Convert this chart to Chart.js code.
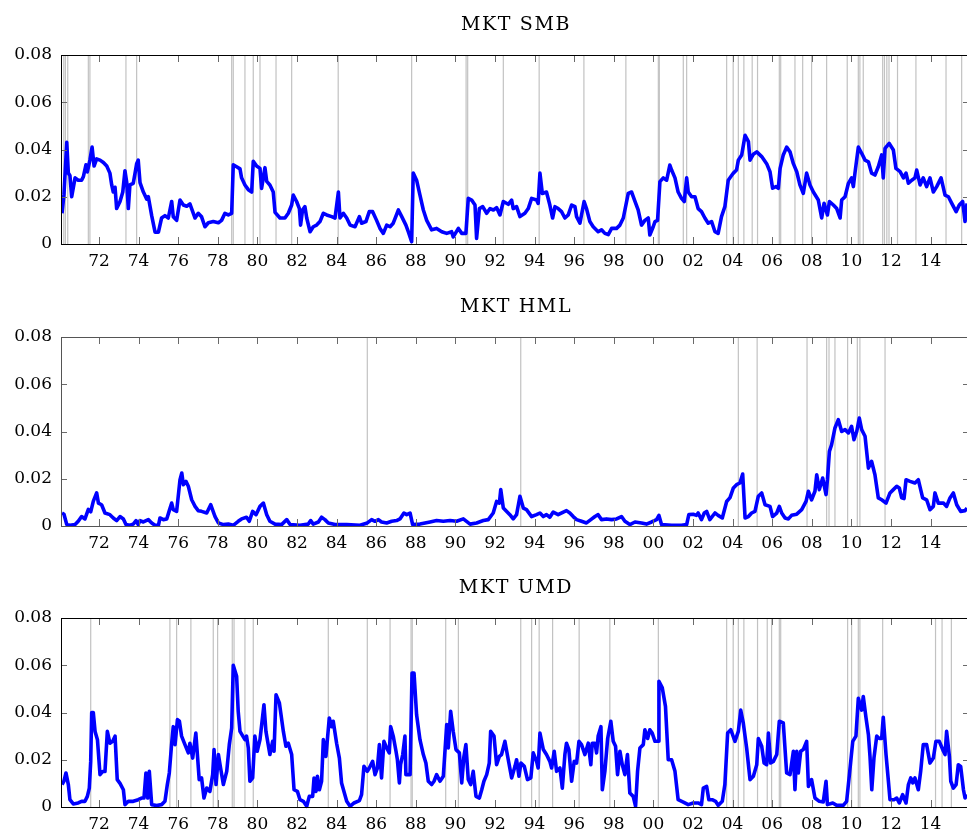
<!DOCTYPE html>
<html>
<head>
<meta charset="utf-8">
<script src="https://cdn.jsdelivr.net/npm/chart.js@4.4.1/dist/chart.umd.min.js"></script>
<style>
  html, body { margin: 0; padding: 0; background: #fff; }
  body { width: 967px; height: 831px; overflow: hidden; position: relative; }
  canvas { position: absolute; left: 0; }
</style>
</head>
<body>
<canvas id="smbChart" width="968" height="281" style="top:0px"></canvas>
<canvas id="hmlChart" width="968" height="281" style="top:282px"></canvas>
<canvas id="umdChart" width="968" height="281" style="top:563px"></canvas>
<script>
// x range in years, y range of the volatility
const X_MIN = 1970.13;
const X_MAX = 2015.89;
const Y_TICKS = [0, 0.02, 0.04, 0.06, 0.08];

// --- MKT SMB ---
const smbYears = [
  1970.13, 1970.23, 1970.37, 1970.45, 1970.53, 1970.62, 1970.79, 1970.95, 1971.12, 1971.21, 1971.34, 1971.41,
  1971.54, 1971.65, 1971.75, 1971.88, 1972.05, 1972.22, 1972.39, 1972.55, 1972.64, 1972.72, 1972.81, 1972.89,
  1973.06, 1973.2, 1973.31, 1973.4, 1973.48, 1973.56, 1973.73, 1973.82, 1973.9, 1973.98, 1974.07, 1974.24,
  1974.41, 1974.49, 1974.66, 1974.83, 1975.0, 1975.16, 1975.33, 1975.5, 1975.67, 1975.75, 1975.92, 1976.09,
  1976.26, 1976.43, 1976.59, 1976.85, 1977.01, 1977.18, 1977.35, 1977.52, 1977.77, 1978.03, 1978.19, 1978.36,
  1978.53, 1978.7, 1978.78, 1978.95, 1979.12, 1979.2, 1979.37, 1979.54, 1979.71, 1979.79, 1979.96, 1980.13,
  1980.21, 1980.38, 1980.47, 1980.63, 1980.8, 1980.89, 1981.14, 1981.39, 1981.56, 1981.73, 1981.81, 1981.98,
  1982.12, 1982.18, 1982.28, 1982.4, 1982.49, 1982.66, 1982.82, 1982.99, 1983.16, 1983.33, 1983.5, 1983.75,
  1983.92, 1984.09, 1984.17, 1984.34, 1984.51, 1984.68, 1984.93, 1985.15, 1985.26, 1985.48, 1985.65, 1985.82,
  1986.02, 1986.19, 1986.36, 1986.53, 1986.7, 1986.86, 1987.12, 1987.29, 1987.5, 1987.62, 1987.79, 1987.87,
  1988.04, 1988.21, 1988.38, 1988.55, 1988.8, 1989.05, 1989.31, 1989.56, 1989.81, 1989.89, 1990.15, 1990.32,
  1990.53, 1990.65, 1990.82, 1990.99, 1991.07, 1991.21, 1991.38, 1991.58, 1991.75, 1991.92, 1992.08, 1992.25,
  1992.42, 1992.67, 1992.84, 1992.92, 1993.09, 1993.26, 1993.51, 1993.68, 1993.85, 1994.1, 1994.18, 1994.27,
  1994.39, 1994.6, 1994.77, 1994.91, 1995.03, 1995.19, 1995.36, 1995.53, 1995.7, 1995.87, 1996.04, 1996.12,
  1996.29, 1996.5, 1996.62, 1996.79, 1996.96, 1997.21, 1997.38, 1997.55, 1997.72, 1997.89, 1998.14, 1998.31,
  1998.48, 1998.73, 1998.9, 1999.07, 1999.23, 1999.4, 1999.57, 1999.74, 1999.82, 1999.99, 2000.08, 2000.21,
  2000.33, 2000.5, 2000.67, 2000.83, 2000.92, 2001.09, 2001.25, 2001.42, 2001.56, 2001.68, 2001.76, 2001.93,
  2002.1, 2002.26, 2002.43, 2002.6, 2002.77, 2002.94, 2003.11, 2003.27, 2003.44, 2003.61, 2003.78, 2003.95,
  2004.04, 2004.2, 2004.29, 2004.46, 2004.63, 2004.8, 2004.88, 2005.05, 2005.22, 2005.47, 2005.72, 2005.89,
  2006.02, 2006.19, 2006.31, 2006.4, 2006.56, 2006.73, 2006.9, 2007.07, 2007.24, 2007.4, 2007.57, 2007.74,
  2007.91, 2008.08, 2008.33, 2008.5, 2008.62, 2008.79, 2008.89, 2009.09, 2009.26, 2009.43, 2009.51, 2009.68,
  2009.85, 2010.01, 2010.1, 2010.18, 2010.35, 2010.52, 2010.69, 2010.86, 2011.02, 2011.19, 2011.36, 2011.53,
  2011.61, 2011.7, 2011.91, 2012.12, 2012.25, 2012.46, 2012.63, 2012.76, 2012.88, 2013.05, 2013.21, 2013.3,
  2013.47, 2013.63, 2013.8, 2013.97, 2014.14, 2014.31, 2014.53, 2014.73, 2014.9, 2015.07, 2015.29, 2015.45,
  2015.62, 2015.74, 2015.84
];
const smbVals = [
  0.013, 0.021, 0.043, 0.030, 0.029, 0.020, 0.028, 0.027, 0.027, 0.0285, 0.0335, 0.0305,
  0.0355, 0.041, 0.033, 0.036, 0.0355, 0.0345, 0.033, 0.030, 0.025, 0.022, 0.024, 0.015,
  0.018, 0.022, 0.031, 0.026, 0.015, 0.025, 0.0257, 0.030, 0.034, 0.0355, 0.026, 0.022,
  0.019, 0.020, 0.012, 0.005, 0.005, 0.011, 0.012, 0.011, 0.018, 0.0115, 0.010, 0.0186,
  0.0165, 0.016, 0.017, 0.011, 0.013, 0.0115, 0.0073, 0.009, 0.0095, 0.009, 0.010, 0.013,
  0.0123, 0.013, 0.0335, 0.0327, 0.0318, 0.028, 0.025, 0.023, 0.022, 0.035, 0.033, 0.032,
  0.0235, 0.0323, 0.0265, 0.025, 0.022, 0.0134, 0.011, 0.011, 0.013, 0.0165, 0.0207, 0.018,
  0.015, 0.008, 0.0144, 0.0158, 0.011, 0.0052, 0.0073, 0.008, 0.0095, 0.013, 0.0123, 0.0116,
  0.011, 0.022, 0.011, 0.013, 0.011, 0.008, 0.0073, 0.0116, 0.0088, 0.0095, 0.0137, 0.0137,
  0.010, 0.0066, 0.0045, 0.008, 0.0073, 0.0088, 0.0144, 0.0116, 0.008, 0.0052, 0.001, 0.030,
  0.027, 0.0207, 0.0144, 0.010, 0.006, 0.0066, 0.0052, 0.0045, 0.0052, 0.003, 0.0066, 0.0045,
  0.0045, 0.0193, 0.0186, 0.0165, 0.0024, 0.015, 0.0158, 0.013, 0.015, 0.0144, 0.0154, 0.0123,
  0.018, 0.0168, 0.0186, 0.015, 0.0158, 0.0116, 0.013, 0.015, 0.0193, 0.0186, 0.0172, 0.030,
  0.0214, 0.022, 0.0165, 0.011, 0.0158, 0.015, 0.0137, 0.011, 0.0123, 0.0165, 0.0158, 0.0116,
  0.0088, 0.018, 0.015, 0.0095, 0.0073, 0.0052, 0.006, 0.0045, 0.004, 0.0066, 0.0066, 0.008,
  0.011, 0.0214, 0.022, 0.018, 0.0144, 0.008, 0.010, 0.011, 0.0038, 0.0073, 0.0095, 0.010,
  0.0264, 0.028, 0.027, 0.0334, 0.0313, 0.028, 0.022, 0.0193, 0.018, 0.028, 0.022, 0.020,
  0.020, 0.015, 0.0137, 0.011, 0.0088, 0.0095, 0.0052, 0.0045, 0.0116, 0.0158, 0.027, 0.029,
  0.030, 0.0313, 0.0355, 0.0377, 0.046, 0.0433, 0.0355, 0.038, 0.039, 0.037, 0.034, 0.0306,
  0.0236, 0.0243, 0.0236, 0.032, 0.0377, 0.041, 0.039, 0.034, 0.0306, 0.025, 0.0214, 0.030,
  0.025, 0.022, 0.0186, 0.011, 0.0172, 0.0123, 0.018, 0.0165, 0.015, 0.011, 0.0186, 0.020,
  0.0257, 0.028, 0.0243, 0.030, 0.041, 0.0384, 0.0355, 0.0348, 0.030, 0.0292, 0.0327, 0.0377,
  0.028, 0.0405, 0.0426, 0.0398, 0.032, 0.0306, 0.028, 0.030, 0.0257, 0.027, 0.028, 0.0313,
  0.025, 0.028, 0.0243, 0.028, 0.022, 0.0243, 0.028, 0.0207, 0.020, 0.0172, 0.0137, 0.0165,
  0.018, 0.0095, 0.0172
];
const smbEvents = [
  1970.22, 1970.3, 1970.42, 1971.46, 1971.54, 1973.36, 1973.9, 1978.7, 1978.78, 1979.37, 1979.79, 1980.13,
  1980.94, 1981.73, 1984.08, 1987.79, 1990.54, 1990.62, 1992.42, 1994.23, 1996.49, 1998.61, 2000.25, 2000.3,
  2001.51, 2001.68, 2003.7, 2004.03, 2004.29, 2004.57, 2004.99, 2005.26, 2006.36, 2006.43, 2007.15, 2007.54,
  2007.99, 2008.75, 2009.79, 2010.35, 2010.43, 2010.6, 2011.58, 2011.67, 2011.79, 2011.9, 2012.33, 2013.26,
  2014.78, 2015.57
];

// --- MKT HML ---
const hmlYears = [
  1970.13, 1970.23, 1970.37, 1970.53, 1970.79, 1970.95, 1971.12, 1971.29, 1971.46, 1971.58, 1971.71, 1971.88,
  1971.97, 1972.13, 1972.3, 1972.55, 1972.72, 1972.89, 1973.06, 1973.23, 1973.36, 1973.56, 1973.73, 1973.87,
  1973.98, 1974.07, 1974.24, 1974.49, 1974.66, 1974.83, 1975.0, 1975.08, 1975.25, 1975.42, 1975.55, 1975.67,
  1975.75, 1975.92, 1976.09, 1976.18, 1976.26, 1976.39, 1976.51, 1976.68, 1976.85, 1977.01, 1977.18, 1977.44,
  1977.64, 1977.86, 1978.03, 1978.28, 1978.53, 1978.78, 1979.03, 1979.2, 1979.45, 1979.59, 1979.76, 1979.93,
  1980.13, 1980.3, 1980.47, 1980.63, 1980.89, 1981.22, 1981.48, 1981.65, 1982.15, 1982.57, 1982.69, 1982.82,
  1983.08, 1983.24, 1983.41, 1983.58, 1983.92, 1984.51, 1985.18, 1985.55, 1985.77, 1985.94, 1986.11, 1986.27,
  1986.53, 1986.78, 1987.03, 1987.2, 1987.4, 1987.54, 1987.71, 1987.84, 1988.21, 1988.72, 1989.05, 1989.39,
  1989.73, 1990.06, 1990.4, 1990.74, 1991.07, 1991.41, 1991.66, 1991.91, 1992.08, 1992.22, 1992.29, 1992.42,
  1992.75, 1992.92, 1993.09, 1993.26, 1993.43, 1993.59, 1993.85, 1994.1, 1994.27, 1994.44, 1994.6, 1994.77,
  1994.94, 1995.19, 1995.45, 1995.61, 1995.78, 1995.95, 1996.12, 1996.37, 1996.62, 1996.84, 1997.05, 1997.21,
  1997.38, 1997.63, 1997.89, 1998.14, 1998.39, 1998.56, 1998.81, 1999.07, 1999.4, 1999.65, 1999.91, 2000.16,
  2000.28, 2000.41, 2000.92, 2001.42, 2001.68, 2001.79, 2002.01, 2002.18, 2002.26, 2002.43, 2002.57, 2002.69,
  2002.85, 2003.11, 2003.27, 2003.48, 2003.7, 2003.87, 2004.04, 2004.2, 2004.37, 2004.51, 2004.63, 2004.8,
  2004.96, 2005.13, 2005.3, 2005.47, 2005.64, 2005.89, 2006.02, 2006.23, 2006.36, 2006.48, 2006.65, 2006.82,
  2006.98, 2007.24, 2007.49, 2007.71, 2007.83, 2007.99, 2008.16, 2008.25, 2008.38, 2008.55, 2008.72, 2008.79,
  2008.89, 2009.0, 2009.17, 2009.34, 2009.51, 2009.68, 2009.85, 2010.01, 2010.13, 2010.27, 2010.4, 2010.52,
  2010.69, 2010.86, 2011.02, 2011.19, 2011.36, 2011.53, 2011.75, 2011.95, 2012.12, 2012.29, 2012.42, 2012.54,
  2012.66, 2012.76, 2012.96, 2013.21, 2013.38, 2013.6, 2013.8, 2013.97, 2014.14, 2014.22, 2014.39, 2014.65,
  2014.81, 2014.98, 2015.15, 2015.32, 2015.52, 2015.74, 2015.84
];
const hmlVals = [
  0.0055, 0.005, 0.0006, 0.0003, 0.0006, 0.002, 0.004, 0.003, 0.007, 0.006, 0.0104, 0.014,
  0.0097, 0.009, 0.0055, 0.0048, 0.0034, 0.0023, 0.004, 0.003, 0.0006, 0.0003, 0.0008, 0.0023,
  0.0006, 0.0023, 0.0017, 0.0027, 0.0013, 0.0003, 0.0003, 0.0034, 0.0027, 0.003, 0.0065, 0.0097,
  0.0069, 0.0062, 0.0196, 0.0224, 0.0175, 0.0189, 0.0168, 0.0111, 0.0083, 0.0065, 0.0062, 0.0055,
  0.009, 0.004, 0.0013, 0.0006, 0.0008, 0.0003, 0.002, 0.003, 0.0037, 0.002, 0.0062, 0.0048,
  0.0083, 0.0097, 0.0048, 0.002, 0.0008, 0.0006, 0.0027, 0.0006, 0.0003, 0.0008, 0.0023, 0.0008,
  0.0017, 0.0037, 0.0027, 0.0013, 0.0006, 0.0006, 0.0003, 0.0013, 0.0027, 0.002, 0.0027, 0.0017,
  0.0013, 0.002, 0.0023, 0.003, 0.0055, 0.0048, 0.0055, 0.0006, 0.0008, 0.0017, 0.0023, 0.002,
  0.0023, 0.002, 0.003, 0.0008, 0.0013, 0.0023, 0.0027, 0.0055, 0.0104, 0.0097, 0.0154, 0.0076,
  0.0048, 0.003, 0.0048, 0.0126, 0.0076, 0.0069, 0.004, 0.0048, 0.0055, 0.004, 0.0048, 0.0037,
  0.0059, 0.0048, 0.0059, 0.0065, 0.0055, 0.004, 0.0027, 0.002, 0.0013, 0.0027, 0.004, 0.0048,
  0.0027, 0.003, 0.0027, 0.003, 0.004, 0.002, 0.0006, 0.0017, 0.0013, 0.0008, 0.0017, 0.0027,
  0.0045, 0.0006, 0.0003, 0.0003, 0.0006, 0.0048, 0.005, 0.0045, 0.0055, 0.0027, 0.0055, 0.0062,
  0.0027, 0.0055, 0.0045, 0.0034, 0.0104, 0.012, 0.0161, 0.0175, 0.0182, 0.022, 0.0034, 0.004,
  0.0055, 0.0062, 0.0126, 0.014, 0.009, 0.0083, 0.004, 0.0055, 0.0083, 0.0055, 0.0034, 0.003,
  0.0045, 0.005, 0.0069, 0.0104, 0.0147, 0.0111, 0.0147, 0.0217, 0.0154, 0.0203, 0.0133, 0.0196,
  0.0316, 0.0344, 0.0415, 0.045, 0.040, 0.0408, 0.0394, 0.0422, 0.0365, 0.040, 0.0457, 0.0408,
  0.038, 0.0245, 0.0274, 0.0217, 0.0119, 0.0111, 0.0097, 0.014, 0.0154, 0.0168, 0.0161, 0.0119,
  0.0116, 0.0196, 0.0189, 0.0182, 0.0196, 0.0119, 0.0111, 0.0069, 0.0083, 0.014, 0.0097, 0.0097,
  0.0083, 0.0119, 0.014, 0.009, 0.0062, 0.0065, 0.0076
];
const hmlEvents = [
  1985.55, 1993.3, 2004.29, 2005.24, 2007.76, 2008.75, 2008.87, 2009.17, 2009.81, 2010.3, 2010.43, 2011.7
];

// --- MKT UMD ---
const umdYears = [
  1970.13, 1970.23, 1970.33, 1970.45, 1970.53, 1970.7, 1970.95, 1971.12, 1971.29, 1971.41, 1971.51, 1971.58,
  1971.63, 1971.71, 1971.8, 1971.92, 1972.05, 1972.18, 1972.3, 1972.42, 1972.55, 1972.69, 1972.81, 1972.92,
  1973.06, 1973.23, 1973.31, 1973.48, 1973.73, 1973.98, 1974.15, 1974.27, 1974.37, 1974.46, 1974.54, 1974.66,
  1974.91, 1975.16, 1975.33, 1975.45, 1975.55, 1975.67, 1975.75, 1975.84, 1975.96, 1976.06, 1976.17, 1976.34,
  1976.51, 1976.59, 1976.73, 1976.89, 1977.06, 1977.18, 1977.3, 1977.44, 1977.6, 1977.74, 1977.81, 1977.91,
  1978.03, 1978.14, 1978.28, 1978.45, 1978.58, 1978.7, 1978.78, 1978.95, 1979.03, 1979.12, 1979.37, 1979.45,
  1979.54, 1979.62, 1979.76, 1979.87, 1979.99, 1980.13, 1980.33, 1980.43, 1980.63, 1980.77, 1980.84, 1980.94,
  1981.11, 1981.31, 1981.44, 1981.56, 1981.73, 1981.85, 1982.02, 1982.15, 1982.32, 1982.49, 1982.62, 1982.79,
  1982.86, 1982.96, 1983.03, 1983.13, 1983.24, 1983.33, 1983.46, 1983.63, 1983.75, 1983.83, 1984.0, 1984.14,
  1984.25, 1984.51, 1984.68, 1984.88, 1985.15, 1985.26, 1985.38, 1985.55, 1985.65, 1985.82, 1985.94, 1986.06,
  1986.16, 1986.27, 1986.39, 1986.53, 1986.66, 1986.73, 1986.86, 1987.0, 1987.07, 1987.17, 1987.23, 1987.34,
  1987.45, 1987.5, 1987.71, 1987.81, 1987.91, 1988.04, 1988.21, 1988.38, 1988.51, 1988.63, 1988.8, 1988.92,
  1989.05, 1989.22, 1989.39, 1989.56, 1989.64, 1989.76, 1989.89, 1990.03, 1990.2, 1990.32, 1990.43, 1990.53,
  1990.65, 1990.77, 1990.9, 1991.04, 1991.21, 1991.33, 1991.44, 1991.58, 1991.71, 1991.78, 1991.95, 1992.08,
  1992.22, 1992.33, 1992.5, 1992.67, 1992.84, 1993.01, 1993.09, 1993.21, 1993.31, 1993.48, 1993.64, 1993.81,
  1993.93, 1994.1, 1994.18, 1994.27, 1994.44, 1994.6, 1994.77, 1994.86, 1994.99, 1995.11, 1995.28, 1995.4,
  1995.53, 1995.61, 1995.73, 1995.87, 1996.0, 1996.12, 1996.24, 1996.37, 1996.54, 1996.71, 1996.84, 1996.91,
  1997.05, 1997.13, 1997.21, 1997.35, 1997.42, 1997.55, 1997.69, 1997.85, 1997.97, 1998.09, 1998.19, 1998.31,
  1998.43, 1998.56, 1998.69, 1998.81, 1998.98, 1999.1, 1999.2, 1999.32, 1999.49, 1999.57, 1999.71, 1999.82,
  1999.94, 2000.08, 2000.24, 2000.28, 2000.45, 2000.61, 2000.75, 2000.92, 2001.09, 2001.25, 2001.51, 2001.76,
  2002.01, 2002.26, 2002.43, 2002.52, 2002.69, 2002.8, 2002.97, 2003.14, 2003.27, 2003.48, 2003.61, 2003.75,
  2003.91, 2004.12, 2004.29, 2004.41, 2004.54, 2004.71, 2004.88, 2005.05, 2005.22, 2005.3, 2005.47, 2005.59,
  2005.72, 2005.81, 2005.92, 2006.06, 2006.23, 2006.36, 2006.56, 2006.73, 2006.9, 2007.07, 2007.15, 2007.24,
  2007.32, 2007.44, 2007.57, 2007.74, 2007.83, 2007.99, 2008.16, 2008.38, 2008.58, 2008.72, 2008.79, 2009.06,
  2009.26, 2009.59, 2009.76, 2009.9, 2010.07, 2010.23, 2010.35, 2010.52, 2010.6, 2010.74, 2010.86, 2010.94,
  2011.03, 2011.14, 2011.28, 2011.41, 2011.53, 2011.61, 2011.75, 2011.87, 2011.95, 2012.15, 2012.29, 2012.42,
  2012.59, 2012.76, 2012.88, 2013.0, 2013.1, 2013.21, 2013.38, 2013.5, 2013.63, 2013.8, 2013.97, 2014.14,
  2014.27, 2014.44, 2014.65, 2014.73, 2014.81, 2014.95, 2015.02, 2015.15, 2015.29, 2015.4, 2015.52, 2015.66,
  2015.74, 2015.84
];
const umdVals = [
  0.0095, 0.011, 0.0144, 0.0095, 0.0031, 0.0013, 0.0017, 0.0024, 0.0024, 0.0045, 0.008, 0.0193,
  0.040, 0.040, 0.032, 0.0285, 0.0137, 0.015, 0.015, 0.032, 0.027, 0.0278, 0.030, 0.0116,
  0.010, 0.0073, 0.001, 0.0024, 0.0024, 0.0031, 0.0038, 0.0038, 0.0144, 0.0038, 0.0151, 0.001,
  0.0006, 0.001, 0.0024, 0.0095, 0.0144, 0.027, 0.034, 0.0264, 0.037, 0.0363, 0.030, 0.0264,
  0.0229, 0.027, 0.0207, 0.0313, 0.0116, 0.0123, 0.0038, 0.008, 0.0066, 0.0137, 0.0243, 0.0095,
  0.0222, 0.0165, 0.0095, 0.0151, 0.0264, 0.0334, 0.060, 0.0553, 0.0405, 0.032, 0.0285, 0.030,
  0.025, 0.0109, 0.0123, 0.030, 0.0236, 0.0285, 0.0433, 0.032, 0.0222, 0.0278, 0.0236, 0.0475,
  0.044, 0.032, 0.0257, 0.027, 0.0222, 0.0073, 0.0066, 0.0031, 0.0024, 0.0003, 0.0045, 0.0045,
  0.0123, 0.0066, 0.013, 0.0073, 0.0109, 0.0285, 0.0214, 0.0377, 0.034, 0.0363, 0.027, 0.0207,
  0.0102, 0.0024, 0.0003, 0.0017, 0.0027, 0.0052, 0.0172, 0.0151, 0.0165, 0.0193, 0.0137, 0.0165,
  0.0264, 0.0123, 0.0278, 0.025, 0.0229, 0.034, 0.030, 0.0236, 0.020, 0.0102, 0.0179, 0.0222,
  0.030, 0.0137, 0.0137, 0.0567, 0.0567, 0.039, 0.0285, 0.0222, 0.0186, 0.0109, 0.0095, 0.0109,
  0.0137, 0.0109, 0.013, 0.0349, 0.025, 0.0405, 0.032, 0.0243, 0.0229, 0.0102, 0.0214, 0.0264,
  0.0116, 0.0095, 0.0151, 0.0045, 0.0038, 0.0073, 0.0109, 0.0137, 0.0186, 0.032, 0.030, 0.0179,
  0.0214, 0.0222, 0.0278, 0.020, 0.0123, 0.0172, 0.020, 0.013, 0.0186, 0.0172, 0.0116, 0.0123,
  0.0229, 0.0193, 0.0165, 0.0313, 0.0243, 0.0222, 0.0193, 0.0165, 0.0236, 0.0151, 0.0165, 0.008,
  0.0222, 0.027, 0.0243, 0.0109, 0.0193, 0.0186, 0.0278, 0.0264, 0.0222, 0.027, 0.0179, 0.027,
  0.027, 0.0229, 0.030, 0.034, 0.0073, 0.0151, 0.029, 0.0363, 0.0278, 0.0257, 0.0137, 0.0236,
  0.0179, 0.0137, 0.0222, 0.0059, 0.0045, 0.0003, 0.0151, 0.025, 0.0264, 0.0327, 0.029, 0.0327,
  0.0313, 0.0278, 0.0278, 0.0532, 0.0504, 0.0426, 0.020, 0.020, 0.0151, 0.0031, 0.0021, 0.001,
  0.0017, 0.0017, 0.001, 0.008, 0.0087, 0.0031, 0.0031, 0.0024, 0.0007, 0.0024, 0.0095, 0.0313,
  0.0327, 0.0278, 0.032, 0.041, 0.0356, 0.025, 0.0116, 0.013, 0.0179, 0.029, 0.0257, 0.0186,
  0.0179, 0.0313, 0.0186, 0.0193, 0.0222, 0.0363, 0.0356, 0.0144, 0.0137, 0.0236, 0.0073, 0.0236,
  0.0144, 0.0236, 0.0243, 0.0278, 0.0087, 0.0116, 0.0038, 0.0024, 0.0021, 0.0109, 0.001, 0.0017,
  0.0007, 0.0007, 0.0024, 0.0137, 0.0278, 0.030, 0.046, 0.041, 0.0468, 0.0377, 0.0306, 0.0214,
  0.0073, 0.0207, 0.030, 0.029, 0.029, 0.038, 0.0222, 0.0109, 0.0031, 0.0031, 0.0038, 0.0017,
  0.0052, 0.0017, 0.0095, 0.0123, 0.0102, 0.0123, 0.0073, 0.0151, 0.0264, 0.0264, 0.0186, 0.0207,
  0.0278, 0.0278, 0.0236, 0.0222, 0.032, 0.0214, 0.0109, 0.008, 0.0095, 0.0179, 0.0172, 0.0073,
  0.0038, 0.0052
];
const umdEvents = [
  1971.58, 1975.58, 1975.92, 1976.64, 1977.77, 1977.99, 1978.73, 1978.82, 1979.37, 1979.79, 1983.58, 1985.55,
  1986.7, 1987.76, 1987.82, 1989.51, 1990.15, 1993.3, 1993.85, 1994.23, 1994.91, 1996.25, 1997.8, 2000.25,
  2003.7, 2004.03, 2004.29, 2004.57, 2005.26, 2005.75, 2005.97, 2006.36, 2006.43, 2009.81, 2010.01, 2010.35,
  2010.43, 2011.58, 2014.25, 2014.58, 2015.05
];

Chart.defaults.font.family = '"DejaVu Serif", "Liberation Serif", serif';
Chart.defaults.color = '#000';

// grey event lines under the series, frame + inward ticks + title on top
const panelDecor = {
    id: 'panelDecor',
    beforeDatasetsDraw(chart, args, opts) {
        const { ctx, chartArea: a, scales: { x } } = chart;
        ctx.save();
        ctx.strokeStyle = '#c2c2c2';
        ctx.lineWidth = 1.2;
        opts.events.forEach(v => {
            const px = x.getPixelForValue(v);
            ctx.beginPath();
            ctx.moveTo(px, a.top);
            ctx.lineTo(px, a.bottom);
            ctx.stroke();
        });
        ctx.restore();
    },
    afterDraw(chart, args, opts) {
        const { ctx, chartArea: a, scales: { x, y } } = chart;
        ctx.save();
        ctx.strokeStyle = '#6a6a6a';
        ctx.lineWidth = 1;
        x.ticks.forEach(t => {
            const px = Math.round(x.getPixelForValue(t.value)) + 0.5;
            ctx.beginPath();
            ctx.moveTo(px, a.bottom); ctx.lineTo(px, a.bottom - 7);
            ctx.moveTo(px, a.top); ctx.lineTo(px, a.top + 7);
            ctx.stroke();
        });
        Y_TICKS.slice(1, -1).forEach(v => {
            const py = Math.round(y.getPixelForValue(v)) + 0.5;
            ctx.beginPath();
            ctx.moveTo(a.left, py); ctx.lineTo(a.left + 5, py);
            ctx.moveTo(a.right, py); ctx.lineTo(a.right - 5, py);
            ctx.stroke();
        });
        ctx.strokeStyle = opts.frameColor;
        ctx.strokeRect(a.left - 0.5, a.top + 0.5, a.right - a.left, a.bottom - a.top);

        ctx.fillStyle = '#000';
        ctx.font = '19px "DejaVu Serif", serif';
        if ('letterSpacing' in ctx) ctx.letterSpacing = '1.6px';
        ctx.textAlign = 'center';
        ctx.textBaseline = 'middle';
        ctx.fillText(opts.title, (a.left + a.right) / 2 + 1, a.top - 30);
        if ('letterSpacing' in ctx) ctx.letterSpacing = '0px';
        ctx.restore();
    }
};

function makePanel(canvasId, title, years, vals, events, frameColor) {
    const canvas = document.getElementById(canvasId);
    return new Chart(canvas.getContext('2d'), {
        type: 'line',
        data: {
            datasets: [{
                data: years.map((t, i) => ({ x: t, y: vals[i] })),
                borderColor: '#0000ff',
                borderWidth: 3.6,
                pointRadius: 0,
                tension: 0,
                borderJoinStyle: 'round',
                clip: { left: 0, right: 0, top: 4, bottom: 4 }
            }]
        },
        options: {
            responsive: false,
            animation: false,
            devicePixelRatio: 1,
            layout: { padding: { top: 55, left: 0, right: 0, bottom: 0 } },
            plugins: {
                legend: { display: false },
                tooltip: { enabled: false },
                panelDecor: { title: title, events: events, frameColor: frameColor }
            },
            scales: {
                x: {
                    type: 'linear',
                    min: X_MIN,
                    max: X_MAX,
                    grid: { display: false, drawTicks: false },
                    border: { display: false },
                    ticks: {
                        stepSize: 2,
                        includeBounds: false,
                        autoSkip: false,
                        maxRotation: 0,
                        padding: 7,
                        font: { size: 17 },
                        callback: v => String(Math.round(v) % 100).padStart(2, '0')
                    },
                    afterFit: s => { s.height = 37; }
                },
                y: {
                    min: Y_TICKS[0],
                    max: Y_TICKS[Y_TICKS.length - 1],
                    grid: { display: false, drawTicks: false },
                    border: { display: false },
                    ticks: {
                        stepSize: 0.02,
                        padding: 10,
                        font: { size: 17 },
                        callback: v => (v === 0 ? '0' : v.toFixed(2))
                    },
                    afterFit: s => { s.width = 62; }
                }
            }
        },
        plugins: [panelDecor]
    });
}

makePanel('smbChart', 'MKT SMB', smbYears, smbVals, smbEvents, '#000');
makePanel('hmlChart', 'MKT HML', hmlYears, hmlVals, hmlEvents, '#555');
makePanel('umdChart', 'MKT UMD', umdYears, umdVals, umdEvents, '#000');
</script>
</body>
</html>
